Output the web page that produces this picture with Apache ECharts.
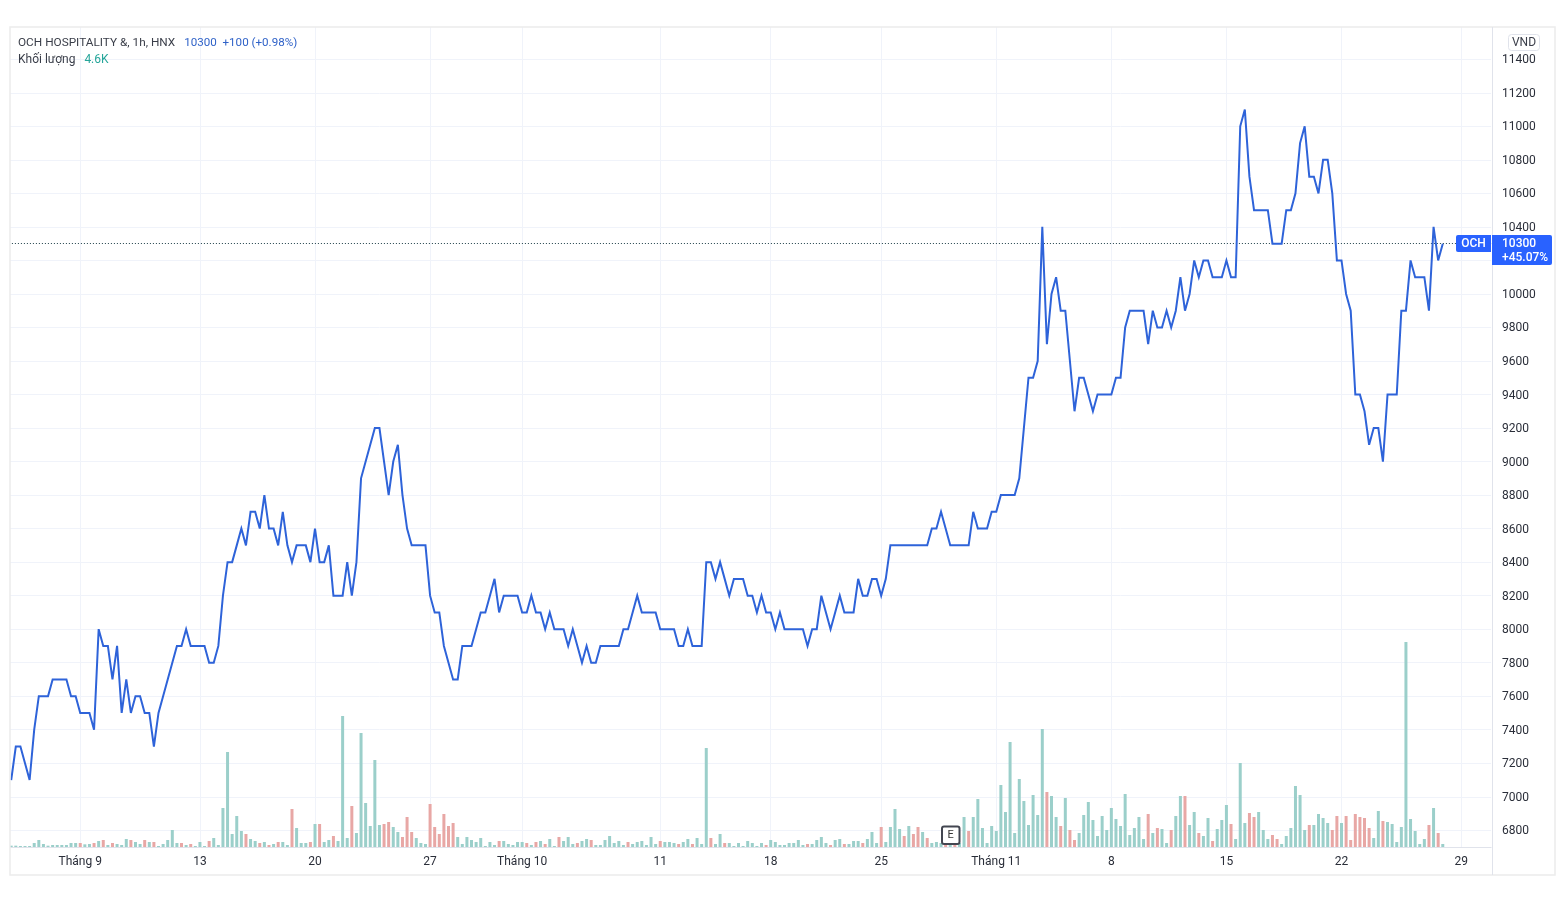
<!DOCTYPE html>
<html>
<head>
<meta charset="utf-8">
<title>OCH</title>
<script src="https://cdn.jsdelivr.net/npm/echarts@6/dist/echarts.min.js"></script>
<style>
  html, body { margin: 0; padding: 0; background: #fff; }
  #chart { width: 1566px; height: 910px; }
</style>
</head>
<body>
<div id="chart"></div>
<script>
const prices = [
  7100,7300,7300,7200,7100,7400,7600,7600,7600,7700,
  7700,7700,7700,7600,7600,7500,7500,7500,7400,8000,
  7900,7900,7700,7900,7500,7700,7500,7600,7600,7500,
  7500,7300,7500,7600,7700,7800,7900,7900,8000,7900,
  7900,7900,7900,7800,7800,7900,8200,8400,8400,8500,
  8600,8500,8700,8700,8600,8800,8600,8600,8500,8700,
  8500,8400,8500,8500,8500,8400,8600,8400,8400,8500,
  8200,8200,8200,8400,8200,8400,8900,9000,9100,9200,
  9200,9000,8800,9000,9100,8800,8600,8500,8500,8500,
  8500,8200,8100,8100,7900,7800,7700,7700,7900,7900,
  7900,8000,8100,8100,8200,8300,8100,8200,8200,8200,
  8200,8100,8100,8200,8100,8100,8000,8100,8000,8000,
  8000,7900,8000,7900,7800,7900,7800,7800,7900,7900,
  7900,7900,7900,8000,8000,8100,8200,8100,8100,8100,
  8100,8000,8000,8000,8000,7900,7900,8000,7900,7900,
  7900,8400,8400,8300,8400,8300,8200,8300,8300,8300,
  8200,8200,8100,8200,8100,8100,8000,8100,8000,8000,
  8000,8000,8000,7900,8000,8000,8200,8100,8000,8100,
  8200,8100,8100,8100,8300,8200,8200,8300,8300,8200,
  8300,8500,8500,8500,8500,8500,8500,8500,8500,8500,
  8600,8600,8700,8600,8500,8500,8500,8500,8500,8700,
  8600,8600,8600,8700,8700,8800,8800,8800,8800,8900,
  9200,9500,9500,9600,10400,9700,10000,10100,9900,9900,
  9600,9300,9500,9500,9400,9300,9400,9400,9400,9400,
  9500,9500,9800,9900,9900,9900,9900,9700,9900,9800,
  9800,9900,9800,9900,10100,9900,10000,10200,10100,10200,
  10200,10100,10100,10100,10200,10100,10100,11000,11100,10700,
  10500,10500,10500,10500,10300,10300,10300,10500,10500,10600,
  10900,11000,10700,10700,10600,10800,10800,10600,10200,10200,
  10000,9900,9400,9400,9300,9100,9200,9200,9000,9400,
  9400,9400,9900,9900,10200,10100,10100,10100,9900,10400,10200,10300
]

// khoi luong, don vi K
const volumes = [
  2,2,1.5,1.5,1.5,6,10.5,4.5,2,3,
  3,3,3,6,6,6,4,4.5,6,9,
  10.5,3,6,4.5,3,12,10.5,7.5,4.5,10.5,
  7.5,7.5,1.5,4.5,10.5,25.5,6,6,3,4.5,
  1.5,7.5,1.5,9,13.5,3,58.5,142.5,19.5,46.5,
  24,19.5,12,9,6,7.5,3,4.5,7.5,7.5,
  3,57,28.5,6,6,7.5,34.5,34.5,7.5,10.5,
  16.5,9,196.5,13.5,61.5,21,171,66,31.5,130.5,
  33,34.5,37.5,30,22.5,15,45,22.5,13.5,6,
  4.5,64.5,30,19.5,49.5,31.5,36,15,4.5,15,
  10.5,7.5,13.5,1.5,7.5,3,9,9,4.5,3,
  7.5,7.5,6,3,7.5,9,4.5,12,1.5,15,
  9,15,4.5,6,9,12,10.5,3,3,10.5,
  16.5,6,9,3,7.5,4.5,7.5,9,3,15,
  4.5,9,7.5,7.5,6,4.5,7.5,12,4.5,13.5,
  4.5,148.5,13.5,4.5,19.5,6,6,1.5,6,1.5,
  9,6,1.5,6,3,10.5,7.5,3,3,6,
  6,10.5,3,4.5,4.5,10.5,15,6,3,10.5,
  12,4.5,4.5,9,9,6,12,22.5,6,30,
  7.5,30,57,27,16.5,31.5,19.5,30,22.5,13.5,
  6,7.5,6,4.5,4.5,4.5,6,45,24,45,
  72,28.5,6,31.5,24,93,52.5,157.5,21,102,
  69,33,78,48,177,82.5,76.5,45,31.5,73.5,
  25.5,10.5,21,48,67.5,40.5,16.5,46.5,25.5,58.5,
  42,31.5,79.5,18,28.5,45,12,49.5,21,28.5,
  27,6,25.5,46.5,76.5,76.5,33,52.5,21,16.5,
  43.5,9,27,40.5,63,34.5,12,126,36,51,
  45,52.5,25.5,12,18,12,4.5,16.5,28.5,91.5,
  78,25.5,33,33,49.5,43.5,36,25.5,46.5,36,
  46.5,10.5,49.5,45,43.5,28.5,13.5,54,39,37.5,
  34.5,7.5,30,307.5,42,24,4.5,12,33,58.5,21,4.5
]

// cac cay nen giam (mau do)
const downBars = [15,18,20,22,26,29,31,37,39,43,51,54,56,58,61,65,67,70,74,81,82,85,86,87,
  91,92,93,94,95,96,106,112,114,116,119,123,126,134,141,145,148,152,155,164,173,178,181,
  185,189,194,196,197,199,203,205,208,225,228,230,231,247,249,252,255,258,261,265,269,270,
  274,275,282,287,288,290,291,292,293,294,295,298,308,310]

const tickIndexes = [15,41,66,91,111,141,165,189,214,239,264,289,315]
const tickLabels = ['Tháng 9','13','20','27','Tháng 10','11','18','25','Tháng 11','8','15','22','29']
const slotCount = 322

const categories = []
for (let i = 0; i < slotCount; i++) {
  const pos = tickIndexes.indexOf(i)
  categories.push(pos >= 0 ? tickLabels[pos] : '')
}
const isTick = (i) => tickIndexes.indexOf(i) >= 0

const fontName = 'Roboto'
const textColor = '#2a2e39'
const gridColor = '#f0f3fa'
const lineBlue = '#2e63d9'

let chart = echarts.init(document.getElementById('chart'), null, { renderer: 'canvas' })

let option = {
  animation: false,
  backgroundColor: '#fff',
  textStyle: { fontFamily: fontName },
  title: [{
    left: 18, top: 34, padding: 0,
    text: '{a|OCH HOSPITALITY &, 1h, HNX}  {b|10300  +100 (+0.98%)}',
    textStyle: {
      fontWeight: 'normal',
      rich: {
        a: { color: '#3a3e49', fontSize: 11.8, fontFamily: fontName, fontWeight: 'normal' },
        b: { color: '#2f62c8', fontSize: 11.6, fontFamily: fontName, fontWeight: 'normal' }
      }
    }
  }, {
    left: 18, top: 51, padding: 0,
    text: '{a|Khối lượng}  {b|4.6K}',
    textStyle: {
      fontWeight: 'normal',
      rich: {
        a: { color: '#3a3e49', fontSize: 12, fontFamily: fontName, fontWeight: 'normal' },
        b: { color: '#26a69a', fontSize: 12, fontFamily: fontName, fontWeight: 'normal' }
      }
    }
  }],
  grid: [
    { left: 8.9, right: 74.9, top: 59.3, height: 771 },
    { left: 8.9, right: 74.9, top: 27, height: 820 }
  ],
  xAxis: [{
    type: 'category', gridIndex: 0, data: categories, show: false
  }, {
    type: 'category', gridIndex: 1, data: categories,
    axisLine: { show: true, lineStyle: { color: '#e0e3eb' } },
    axisTick: { show: false },
    axisLabel: {
      interval: (i) => isTick(i),
      color: textColor, fontSize: 12, margin: 9, hideOverlap: false,
      fontFamily: fontName
    },
    splitLine: {
      show: true, alignWithLabel: true,
      interval: (i) => isTick(i),
      lineStyle: { color: gridColor, width: 1 }
    }
  }],
  yAxis: [{
    type: 'value', gridIndex: 0, position: 'right',
    min: 6800, max: 11400, interval: 200,
    axisLine: { show: false }, axisTick: { show: false },
    axisLabel: {
      margin: 11,
      formatter: (v) => '{t|' + v + '}',
      rich: { t: { color: textColor, fontSize: 12, fontFamily: fontName, padding: [2, 0, 0, 0] } },
      showMinLabel: true, showMaxLabel: true
    },
    splitLine: { show: true, lineStyle: { color: gridColor, width: 1 } }
  }, {
    type: 'value', gridIndex: 1, min: 0, max: 1230, show: false, splitLine: { show: false }
  }],
  series: [{
    type: 'bar', xAxisIndex: 1, yAxisIndex: 1,
    barWidth: 3, silent: true, z: 2,
    data: volumes.map((v, i) => ({
      value: v,
      itemStyle: { color: downBars.indexOf(i) >= 0 ? '#e8a7a5' : '#9bcfca' }
    }))
  }, {
    type: 'line', xAxisIndex: 0, yAxisIndex: 0,
    data: prices, showSymbol: false, symbol: 'none', z: 5,
    lineStyle: { color: lineBlue, width: 2, join: 'miter', miterLimit: 4 },
    markLine: {
      silent: true, symbol: 'none', animation: false,
      label: { show: false },
      lineStyle: { type: [1, 2], color: '#20404a', width: 1 },
      data: [{ yAxis: 10300 }]
    }
  }],
  graphic: [
    // khung ngoai
    { type: 'rect', z: 50, silent: true, shape: { x: 10, y: 27, width: 1545, height: 848 },
      style: { fill: 'none', stroke: '#ececec', lineWidth: 1.5 } },
    { type: 'rect', z: 49, silent: true, shape: { x: 0, y: 0, width: 10, height: 910 },
      style: { fill: '#fff' } },
    { type: 'line', z: 50, silent: true, shape: { x1: 1492.5, y1: 27, x2: 1492.5, y2: 875 },
      style: { stroke: '#e0e3eb', lineWidth: 1 } },
    // o VND
    { type: 'rect', z: 50, shape: { x: 1508.5, y: 34.5, width: 31, height: 16, r: 3 },
      style: { fill: '#fff', stroke: '#e0e3eb', lineWidth: 1 } },
    { type: 'text', z: 51, style: { x: 1524, y: 43, text: 'VND', fill: '#3a3e49', fontSize: 12,
      fontFamily: fontName, align: 'center', verticalAlign: 'middle' } },
    // nhan gia cuoi
    { type: 'rect', z: 50, shape: { x: 1456, y: 235, width: 35, height: 17, r: [2, 0, 0, 2] },
      style: { fill: '#2962ff' } },
    { type: 'text', z: 51, style: { x: 1473.5, y: 244, text: 'OCH', fill: '#fff', fontSize: 12,
      fontWeight: 500, fontFamily: fontName, align: 'center', verticalAlign: 'middle' } },
    { type: 'rect', z: 50, shape: { x: 1492, y: 235, width: 60, height: 30, r: [0, 2, 2, 0] },
      style: { fill: '#2962ff' } },
    { type: 'text', z: 51, style: { x: 1502, y: 244, text: '10300', fill: '#fff', fontSize: 12,
      fontWeight: 500, fontFamily: fontName, verticalAlign: 'middle' } },
    { type: 'text', z: 51, style: { x: 1502, y: 258, text: '+45.07%', fill: '#fff', fontSize: 12,
      fontWeight: 500, fontFamily: fontName, verticalAlign: 'middle' } },
    // dau E
    { type: 'rect', z: 50, shape: { x: 942, y: 826.5, width: 17.5, height: 17.5, r: 2 },
      style: { fill: '#fff', stroke: '#434651', lineWidth: 2 } },
    { type: 'text', z: 51, style: { x: 950.7, y: 835.5, text: 'E', fill: '#333', fontSize: 11,
      fontFamily: fontName, align: 'center', verticalAlign: 'middle' } }
  ]
}
chart.setOption(option)
</script>
</body>
</html>
